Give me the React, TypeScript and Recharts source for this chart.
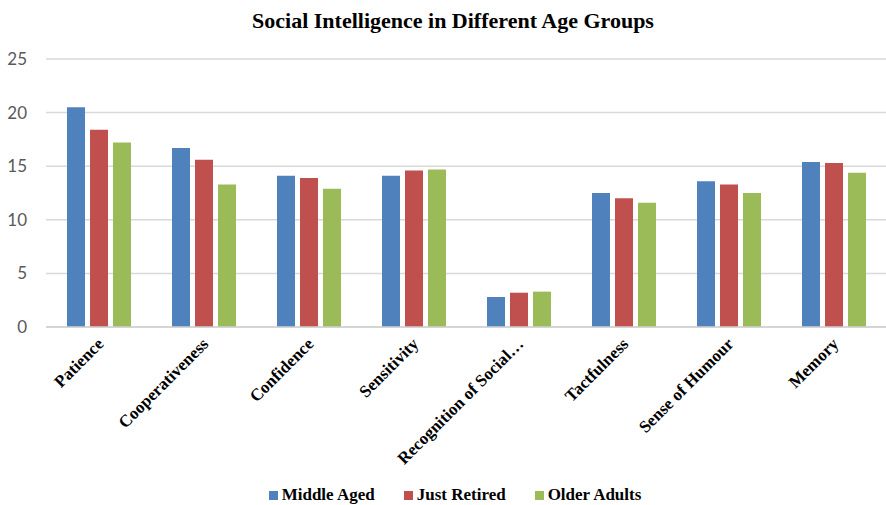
import React from 'react';
import { BarChart, Bar, XAxis, YAxis, CartesianGrid, Legend } from 'recharts';

const categories = ['Patience', 'Cooperativeness', 'Confidence', 'Sensitivity', 'Recognition of Social…', 'Tactfulness', 'Sense of Humour', 'Memory'];
const middleAged = [20.5, 16.7, 14.1, 14.1, 2.8, 12.5, 13.6, 15.4];
const justRetired = [18.4, 15.6, 13.9, 14.6, 3.2, 12.0, 13.3, 15.3];
const olderAdults = [17.2, 13.3, 12.9, 14.7, 3.3, 11.6, 12.5, 14.4];
const yTicks = [0, 5, 10, 15, 20, 25];
const seriesNames = ['Middle Aged', 'Just Retired', 'Older Adults'];
const seriesColors = ['#4F81BD', '#C0504D', '#9BBB59'];

const data = categories.map((c, i) => ({
  name: c,
  middle: middleAged[i],
  retired: justRetired[i],
  older: olderAdults[i],
}));

const SERIF = '"Liberation Serif", "Times New Roman", serif';

const XTick = (props: any) => {
  const { x, y, payload } = props;
  return (
    <g transform={`translate(${x + 6},${y + 18})`}>
      <text
        transform="rotate(-45)"
        textAnchor="end"
        fontFamily={SERIF}
        fontWeight="bold"
        fontSize={17}
        fill="#000"
      >
        {payload.value}
      </text>
    </g>
  );
};

const LegendContent = () => (
  <div
    style={{
      display: 'flex',
      justifyContent: 'center',
      alignItems: 'center',
      height: 20,
      width: 886,
      paddingLeft: 24,
      boxSizing: 'border-box',
      fontFamily: SERIF,
      fontWeight: 'bold',
      fontSize: 17,
      color: '#000',
    }}
  >
    {seriesNames.map((n, i) => (
      <div key={n} style={{ display: 'flex', alignItems: 'center', marginRight: i < 2 ? 29 : 0 }}>
        <span style={{ display: 'inline-block', width: 9, height: 9, background: seriesColors[i], marginRight: 4 }} />
        <span>{n}</span>
      </div>
    ))}
  </div>
);

export default function App() {
  return (
    <div style={{ position: 'absolute', left: 0, top: 0, width: 886, height: 505, background: '#fff' }}>
      <div
        style={{
          position: 'absolute',
          left: 0,
          top: 8,
          width: 906,
          textAlign: 'center',
          fontFamily: SERIF,
          fontWeight: 'bold',
          fontSize: 22,
          lineHeight: '26px',
          color: '#000',
        }}
      >
        Social Intelligence in Different Age Groups
      </div>
      <BarChart
        width={886}
        height={505}
        data={data}
        margin={{ top: 59, right: 0, left: 0, bottom: 0 }}
        barSize={18}
        barGap={5}
      >
        <CartesianGrid vertical={false} stroke="#D9D9D9" strokeWidth={1.5} />
        <XAxis
          dataKey="name"
          interval={0}
          height={158}
          tickLine={false}
          tickSize={0}
          tickMargin={0}
          axisLine={{ stroke: '#D0D0D0', strokeWidth: 1.5 }}
          tick={<XTick />}
        />
        <YAxis
          domain={[0, 25]}
          ticks={yTicks}
          width={46}
          axisLine={false}
          tickLine={false}
          tickSize={0}
          tickMargin={19}
          tick={{ fontFamily: 'Lato, sans-serif', fontSize: 17, fill: '#595959' }}
        />
        <Legend verticalAlign="bottom" height={20} wrapperStyle={{ left: 0, bottom: 0, width: 886 }} content={<LegendContent />} />
        <Bar dataKey="middle" name={seriesNames[0]} fill={seriesColors[0]} isAnimationActive={false} />
        <Bar dataKey="retired" name={seriesNames[1]} fill={seriesColors[1]} isAnimationActive={false} />
        <Bar dataKey="older" name={seriesNames[2]} fill={seriesColors[2]} isAnimationActive={false} />
      </BarChart>
    </div>
  );
}
